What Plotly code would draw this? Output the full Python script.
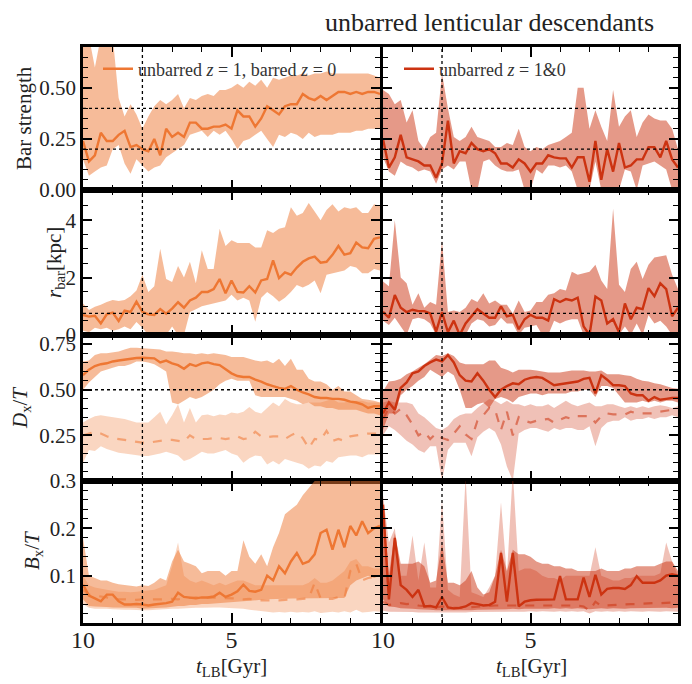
import plotly.graph_objects as go
from plotly.subplots import make_subplots

# ---------------- data (lookback time, Gyr) ----------------
t_lb = [10.0, 9.8, 9.6, 9.4, 9.2, 9.0, 8.8, 8.6, 8.4, 8.2,
        8.0, 7.8, 7.6, 7.4, 7.2, 7.0, 6.8, 6.6, 6.4, 6.2,
        6.0, 5.8, 5.6, 5.4, 5.2, 5.0, 4.8, 4.6, 4.4, 4.2,
        4.0, 3.8, 3.6, 3.4, 3.2, 3.0, 2.8, 2.6, 2.4, 2.2,
        2.0, 1.8, 1.6, 1.4, 1.2, 1.0, 0.8, 0.6, 0.4, 0.2,
        0.0]

# ---- left: unbarred z=1, barred z=0 ----
bs_L = [0.24, 0.14, 0.17, 0.28, 0.24, 0.24, 0.27, 0.29, 0.21, 0.22,
        0.20, 0.19, 0.25, 0.17, 0.30, 0.26, 0.28, 0.26, 0.33, 0.33,
        0.30, 0.30, 0.31, 0.31, 0.32, 0.30, 0.39, 0.36, 0.36, 0.31,
        0.35, 0.41, 0.39, 0.37, 0.41, 0.42, 0.42, 0.47, 0.45, 0.44,
        0.46, 0.44, 0.46, 0.48, 0.48, 0.47, 0.48, 0.47, 0.48, 0.48,
        0.47]
bs_L_hi = [0.72, 0.75, 0.60, 0.75, 0.75, 0.75, 0.45, 0.36, 0.42, 0.37,
           0.30, 0.36, 0.41, 0.44, 0.42, 0.44, 0.47, 0.40, 0.45, 0.44,
           0.46, 0.47, 0.46, 0.49, 0.49, 0.50, 0.52, 0.50, 0.53, 0.51,
           0.54, 0.50, 0.55, 0.54, 0.55, 0.56, 0.56, 0.57, 0.56, 0.57,
           0.57, 0.58, 0.57, 0.57, 0.57, 0.57, 0.57, 0.57, 0.57, 0.56,
           0.55]
bs_L_lo = [0.15, 0.07, 0.09, 0.11, 0.12, 0.20, 0.22, 0.13, 0.08, 0.15,
           0.12, 0.09, 0.11, 0.12, 0.16, 0.18, 0.20, 0.22, 0.27, 0.28,
           0.29, 0.26, 0.29, 0.27, 0.29, 0.25, 0.20, 0.24, 0.25, 0.27,
           0.29, 0.25, 0.21, 0.27, 0.26, 0.28, 0.27, 0.25, 0.28, 0.26,
           0.27, 0.27, 0.27, 0.28, 0.28, 0.28, 0.29, 0.29, 0.30, 0.30,
           0.30]

rb_L = [0.70, 0.64, 0.67, 0.40, 0.72, 0.78, 0.49, 0.85, 0.80, 1.16,
        0.81, 0.72, 0.70, 0.90, 0.74, 0.92, 1.14, 0.95, 1.20, 1.30,
        1.50, 1.50, 1.60, 1.95, 1.45, 1.90, 1.50, 1.48, 1.70, 1.48,
        1.90, 1.95, 2.60, 1.98, 2.18, 2.10, 2.35, 2.55, 2.67, 2.73,
        2.52, 2.55, 2.79, 3.10, 2.80, 2.85, 3.22, 3.05, 3.02, 3.35,
        3.40]
rb_L_hi = [1.10, 0.87, 0.98, 1.05, 1.15, 1.22, 1.18, 1.22, 1.35, 1.55,
           2.10, 1.50, 1.70, 3.00, 1.95, 1.85, 2.40, 2.00, 2.55, 1.80,
           2.95, 2.30, 2.30, 3.70, 3.10, 3.30, 3.20, 3.20, 3.20, 3.05,
           3.05, 3.65, 3.55, 3.70, 3.75, 4.45, 4.15, 4.25, 4.60, 4.30,
           4.00, 4.35, 4.55, 4.30, 4.45, 4.40, 4.45, 4.25, 4.25, 4.55,
           4.50]
rb_L_lo = [0.15, 0.10, 0.25, 0.20, 0.25, 0.15, 0.20, 0.30, 0.20, 0.45,
           0.25, 0.00, 0.00, 0.10, 0.00, 0.30, 0.00, 0.00, 0.80, 0.90,
           1.00, 1.05, 1.10, 1.15, 1.20, 1.40, 1.20, 1.30, 1.20, 0.46,
           1.30, 1.50, 1.35, 1.16, 1.30, 1.50, 1.74, 1.65, 1.75, 1.90,
           1.45, 2.10, 2.15, 2.20, 2.25, 2.40, 2.35, 2.15, 2.15, 2.30,
           2.25]

dt_L = [0.58, 0.61, 0.63, 0.64, 0.645, 0.655, 0.66, 0.665, 0.67, 0.674,
        0.675, 0.674, 0.672, 0.65, 0.66, 0.645, 0.635, 0.615, 0.64, 0.63,
        0.645, 0.65, 0.64, 0.635, 0.61, 0.59, 0.575, 0.57, 0.57, 0.555,
        0.545, 0.53, 0.52, 0.51, 0.505, 0.52, 0.50, 0.485, 0.475, 0.46,
        0.455, 0.455, 0.45, 0.45, 0.445, 0.435, 0.43, 0.42, 0.40, 0.41,
        0.41]
dt_L_hi = [0.655, 0.66, 0.69, 0.70, 0.70, 0.705, 0.71, 0.72, 0.73, 0.73,
           0.728, 0.725, 0.72, 0.72, 0.71, 0.71, 0.705, 0.70, 0.70, 0.695,
           0.70, 0.695, 0.70, 0.695, 0.69, 0.68, 0.68, 0.68, 0.67, 0.66,
           0.655, 0.66, 0.645, 0.67, 0.63, 0.67, 0.61, 0.61, 0.56, 0.545,
           0.545, 0.53, 0.50, 0.52, 0.49, 0.49, 0.47, 0.45, 0.445, 0.44,
           0.43]
dt_L_lo = [0.50, 0.54, 0.57, 0.60, 0.61, 0.62, 0.63, 0.63, 0.64, 0.655,
           0.655, 0.65, 0.64, 0.62, 0.60, 0.43, 0.42, 0.44, 0.46, 0.45,
           0.46, 0.48, 0.50, 0.53, 0.55, 0.56, 0.55, 0.55, 0.55, 0.47,
           0.46, 0.46, 0.46, 0.46, 0.46, 0.45, 0.44, 0.42, 0.43, 0.41,
           0.41, 0.40, 0.40, 0.39, 0.39, 0.39, 0.39, 0.38, 0.37, 0.37,
           0.36]
dx_L = [0.25, 0.26, 0.27, 0.26, 0.245, 0.235, 0.23, 0.225, 0.22, 0.215,
        0.21, 0.21, 0.215, 0.22, 0.225, 0.225, 0.22, 0.215, 0.25, 0.23,
        0.23, 0.23, 0.235, 0.235, 0.23, 0.235, 0.245, 0.23, 0.235, 0.27,
        0.245, 0.24, 0.245, 0.245, 0.23, 0.25, 0.265, 0.235, 0.18, 0.23,
        0.225, 0.275, 0.22, 0.23, 0.22, 0.245, 0.25, 0.255, 0.26, 0.26,
        0.26]
dx_L_hi = [0.32, 0.34, 0.355, 0.36, 0.355, 0.35, 0.345, 0.34, 0.33, 0.32,
           0.32, 0.32, 0.35, 0.38, 0.31, 0.36, 0.42, 0.32, 0.40, 0.32,
           0.36, 0.365, 0.355, 0.365, 0.36, 0.375, 0.37, 0.38, 0.405, 0.38,
           0.37, 0.40, 0.43, 0.41, 0.45, 0.43, 0.42, 0.42, 0.43, 0.43,
           0.43, 0.44, 0.45, 0.43, 0.43, 0.44, 0.44, 0.44, 0.43, 0.43,
           0.43]
dx_L_lo = [0.10, 0.17, 0.165, 0.19, 0.175, 0.165, 0.155, 0.15, 0.145, 0.14,
           0.137, 0.137, 0.145, 0.15, 0.16, 0.15, 0.14, 0.11, 0.12, 0.14,
           0.16, 0.15, 0.15, 0.16, 0.17, 0.15, 0.14, 0.10, 0.125, 0.14,
           0.135, 0.09, 0.11, 0.09, 0.12, 0.11, 0.10, 0.09, 0.067, 0.085,
           0.08, 0.11, 0.10, 0.13, 0.135, 0.14, 0.14, 0.13, 0.145, 0.145,
           0.145]

bt_L = [0.081, 0.058, 0.052, 0.046, 0.060, 0.060, 0.046, 0.039, 0.039, 0.040,
        0.039, 0.037, 0.039, 0.040, 0.042, 0.045, 0.064, 0.055, 0.054, 0.052,
        0.054, 0.054, 0.056, 0.064, 0.055, 0.060, 0.067, 0.081, 0.068, 0.066,
        0.070, 0.100, 0.090, 0.120, 0.105, 0.130, 0.148, 0.125, 0.130, 0.145,
        0.190, 0.197, 0.155, 0.197, 0.160, 0.205, 0.185, 0.215, 0.190, 0.200,
        0.205]
bt_L_hi = [0.18, 0.10, 0.095, 0.090, 0.090, 0.085, 0.082, 0.080, 0.078, 0.077,
           0.080, 0.078, 0.085, 0.095, 0.090, 0.13, 0.155, 0.13, 0.125, 0.12,
           0.105, 0.11, 0.11, 0.11, 0.10, 0.11, 0.11, 0.175, 0.14, 0.125,
           0.145, 0.12, 0.16, 0.19, 0.23, 0.24, 0.25, 0.27, 0.285, 0.30,
           0.32, 0.33, 0.34, 0.34, 0.34, 0.34, 0.34, 0.34, 0.34, 0.34,
           0.34]
bt_L_lo = [0.050, 0.036, 0.035, 0.034, 0.034, 0.033, 0.032, 0.032, 0.032, 0.032,
           0.030, 0.030, 0.031, 0.032, 0.033, 0.034, 0.036, 0.036, 0.038, 0.038,
           0.040, 0.040, 0.041, 0.042, 0.042, 0.043, 0.044, 0.046, 0.047, 0.048,
           0.049, 0.050, 0.050, 0.051, 0.051, 0.052, 0.052, 0.052, 0.052, 0.052,
           0.052, 0.052, 0.053, 0.053, 0.053, 0.080, 0.090, 0.095, 0.100, 0.095,
           0.100]
bx_L = [0.070, 0.060, 0.058, 0.056, 0.054, 0.052, 0.050, 0.050, 0.049, 0.049,
        0.050, 0.050, 0.049, 0.049, 0.050, 0.051, 0.050, 0.052, 0.053, 0.054,
        0.053, 0.054, 0.054, 0.053, 0.053, 0.052, 0.052, 0.050, 0.051, 0.048,
        0.048, 0.047, 0.047, 0.048, 0.049, 0.049, 0.050, 0.051, 0.052, 0.085,
        0.052, 0.051, 0.051, 0.055, 0.052, 0.110, 0.125, 0.090, 0.095, 0.097,
        0.100]
bx_L_hi = [0.10, 0.08, 0.075, 0.072, 0.070, 0.068, 0.066, 0.066, 0.065, 0.066,
           0.067, 0.068, 0.070, 0.075, 0.080, 0.12, 0.17, 0.10, 0.09, 0.085,
           0.09, 0.085, 0.08, 0.085, 0.08, 0.085, 0.09, 0.09, 0.085, 0.08,
           0.08, 0.08, 0.08, 0.08, 0.08, 0.08, 0.08, 0.08, 0.085, 0.095,
           0.085, 0.085, 0.09, 0.10, 0.11, 0.13, 0.135, 0.12, 0.12, 0.115,
           0.115]
bx_L_lo = [0.040, 0.032, 0.030, 0.030, 0.030, 0.029, 0.028, 0.028, 0.028, 0.028,
           0.027, 0.027, 0.028, 0.028, 0.029, 0.030, 0.030, 0.031, 0.031, 0.032,
           0.032, 0.032, 0.033, 0.033, 0.032, 0.032, 0.031, 0.030, 0.028, 0.026,
           0.025, 0.024, 0.022, 0.023, 0.022, 0.024, 0.022, 0.023, 0.022, 0.025,
           0.021, 0.022, 0.024, 0.022, 0.025, 0.022, 0.028, 0.022, 0.023, 0.025,
           0.024]

# ---- right: unbarred z=1 & 0 ----
bs_R = [0.25, 0.11, 0.16, 0.27, 0.16, 0.15, 0.14, 0.12, 0.12, 0.06,
        0.13, 0.34, 0.13, 0.19, 0.18, 0.23, 0.20, 0.19, 0.20, 0.18,
        0.13, 0.13, 0.11, 0.15, 0.13, 0.09, 0.13, 0.13, 0.17, 0.16,
        0.155, 0.155, 0.11, 0.16, 0.16, 0.04, 0.24, 0.05, 0.20, 0.09,
        0.23, 0.11, 0.12, 0.15, 0.15, 0.21, 0.21, 0.16, 0.24, 0.15,
        0.11]
bs_R_hi = [0.49, 0.47, 0.42, 0.44, 0.33, 0.39, 0.24, 0.20, 0.26, 0.28,
           0.57, 0.40, 0.26, 0.24, 0.26, 0.31, 0.26, 0.25, 0.24, 0.21,
           0.21, 0.23, 0.22, 0.30, 0.21, 0.19, 0.21, 0.20, 0.22, 0.23,
           0.24, 0.26, 0.28, 0.50, 0.50, 0.30, 0.39, 0.31, 0.24, 0.49,
           0.31, 0.36, 0.39, 0.26, 0.33, 0.37, 0.35, 0.34, 0.34, 0.30,
           0.20]
bs_R_lo = [0.16, 0.09, 0.07, 0.14, 0.12, 0.11, 0.09, 0.10, 0.09, 0.03,
           0.10, 0.12, 0.10, 0.14, 0.14, 0.00, 0.00, 0.14, 0.15, 0.12,
           0.10, 0.09, 0.09, 0.10, 0.00, 0.00, 0.10, 0.08, 0.12, 0.12,
           0.11, 0.12, 0.09, 0.00, 0.00, 0.00, 0.14, 0.00, 0.00, 0.00,
           0.00, 0.10, 0.09, 0.00, 0.12, 0.13, 0.14, 0.12, 0.10, 0.00,
           0.00]

rb_R = [0.81, 0.60, 1.39, 0.95, 0.80, 0.88, 0.83, 0.83, 0.75, 0.12,
        0.80, 0.10, 0.50, 0.00, 0.40, 0.65, 0.90, 0.75, 0.60, 0.60,
        1.00, 0.65, 0.70, 0.20, 0.55, 0.70, 0.60, 0.60, 0.50, 1.25,
        1.15, 1.25, 1.20, 1.30, 0.30, 0.00, 1.34, 1.20, 0.40, 0.55,
        0.10, 1.10, 0.55, 0.95, 0.90, 1.63, 1.35, 1.80, 1.60, 0.65,
        0.95]
rb_R_hi = [1.86, 1.70, 4.00, 2.00, 1.80, 1.05, 1.45, 0.95, 1.15, 1.05,
           3.30, 0.80, 0.85, 0.80, 0.95, 1.25, 1.15, 1.45, 1.10, 1.20,
           1.05, 1.05, 0.75, 1.20, 0.80, 0.85, 1.15, 1.15, 1.40, 1.45,
           1.60, 1.55, 2.20, 2.10, 2.15, 2.20, 2.45, 1.90, 1.60, 4.40,
           1.75, 1.50, 2.30, 2.55, 1.95, 2.45, 2.70, 2.75, 2.78, 2.10,
           1.60]
rb_R_lo = [0.50, 0.35, 0.60, 0.30, 0.00, 0.55, 0.60, 0.55, 0.40, 0.00,
           0.00, 0.00, 0.00, 0.00, 0.00, 0.40, 0.55, 0.50, 0.30, 0.35,
           0.60, 0.40, 0.40, 0.00, 0.25, 0.30, 0.35, 0.00, 0.00, 0.50,
           0.40, 0.50, 0.55, 0.55, 0.00, 0.00, 0.00, 0.00, 0.00, 0.00,
           0.00, 0.30, 0.00, 0.40, 0.00, 0.70, 0.40, 0.50, 0.30, 0.00,
           0.00]

dt_R = [0.37, 0.43, 0.39, 0.51, 0.54, 0.59, 0.60, 0.63, 0.65, 0.665,
        0.655, 0.69, 0.65, 0.58, 0.55, 0.545, 0.59, 0.55, 0.50, 0.46,
        0.50, 0.52, 0.535, 0.53, 0.555, 0.565, 0.57, 0.565, 0.545, 0.525,
        0.53, 0.535, 0.54, 0.545, 0.56, 0.565, 0.48, 0.58, 0.555, 0.525,
        0.525, 0.52, 0.48, 0.47, 0.47, 0.44, 0.46, 0.445, 0.45, 0.455,
        0.455]
dt_R_hi = [0.49, 0.545, 0.55, 0.56, 0.585, 0.60, 0.62, 0.64, 0.665, 0.69,
           0.685, 0.70, 0.685, 0.65, 0.64, 0.64, 0.64, 0.64, 0.66, 0.66,
           0.62, 0.61, 0.595, 0.61, 0.61, 0.61, 0.605, 0.60, 0.595, 0.595,
           0.595, 0.60, 0.605, 0.605, 0.605, 0.60, 0.60, 0.605, 0.585, 0.585,
           0.585, 0.58, 0.575, 0.56, 0.55, 0.545, 0.535, 0.53, 0.52, 0.51,
           0.505]
dt_R_lo = [0.28, 0.37, 0.37, 0.47, 0.50, 0.52, 0.55, 0.57, 0.61, 0.59,
           0.57, 0.60, 0.58, 0.50, 0.40, 0.40, 0.42, 0.43, 0.40, 0.45,
           0.46, 0.45, 0.43, 0.46, 0.47, 0.48, 0.48, 0.47, 0.48, 0.48,
           0.48, 0.48, 0.49, 0.49, 0.50, 0.50, 0.46, 0.52, 0.52, 0.51,
           0.47, 0.43, 0.43, 0.43, 0.44, 0.43, 0.44, 0.43, 0.44, 0.44,
           0.43]
dx_R = [0.34, 0.40, 0.37, 0.395, 0.36, 0.31, 0.25, 0.27, 0.23, 0.26,
        0.235, 0.225, 0.26, 0.30, 0.255, 0.23, 0.33, 0.36, 0.40, 0.39,
        0.28, 0.38, 0.25, 0.35, 0.33, 0.32, 0.33, 0.335, 0.34, 0.32,
        0.335, 0.35, 0.34, 0.355, 0.355, 0.355, 0.32, 0.355, 0.37, 0.365,
        0.365, 0.365, 0.38, 0.37, 0.37, 0.37, 0.37, 0.38, 0.385, 0.39,
        0.39]
dx_R_hi = [0.43, 0.44, 0.43, 0.43, 0.43, 0.42, 0.37, 0.35, 0.32, 0.29,
           0.28, 0.30, 0.34, 0.36, 0.37, 0.37, 0.40, 0.425, 0.45, 0.44,
           0.42, 0.44, 0.42, 0.42, 0.41, 0.42, 0.41, 0.41, 0.42, 0.40,
           0.42, 0.44, 0.42, 0.41, 0.42, 0.43, 0.41, 0.41, 0.42, 0.42,
           0.41, 0.40, 0.41, 0.40, 0.41, 0.40, 0.41, 0.415, 0.41, 0.40,
           0.41]
dx_R_lo = [0.25, 0.30, 0.28, 0.25, 0.22, 0.20, 0.17, 0.155, 0.19, 0.19,
           0.00, 0.17, 0.21, 0.21, 0.21, 0.135, 0.24, 0.27, 0.29, 0.27,
           0.20, 0.08, 0.00, 0.26, 0.28, 0.29, 0.29, 0.28, 0.27, 0.29,
           0.28, 0.29, 0.29, 0.28, 0.28, 0.30, 0.19, 0.29, 0.32, 0.33,
           0.33, 0.35, 0.33, 0.34, 0.34, 0.35, 0.34, 0.35, 0.35, 0.36,
           0.35]

bt_R = [0.25, 0.05, 0.18, 0.08, 0.07, 0.055, 0.07, 0.035, 0.036, 0.033,
        0.055, 0.033, 0.031, 0.032, 0.035, 0.042, 0.040, 0.037, 0.038, 0.045,
        0.148, 0.045, 0.148, 0.035, 0.045, 0.048, 0.049, 0.049, 0.050, 0.050,
        0.099, 0.050, 0.050, 0.050, 0.096, 0.055, 0.102, 0.060, 0.072, 0.074,
        0.074, 0.072, 0.080, 0.099, 0.085, 0.085, 0.085, 0.090, 0.100, 0.103,
        0.100]
bt_R_hi = [0.26, 0.10, 0.19, 0.125, 0.125, 0.125, 0.13, 0.12, 0.085, 0.09,
           0.17, 0.085, 0.085, 0.08, 0.09, 0.11, 0.075, 0.06, 0.065, 0.10,
           0.155, 0.11, 0.155, 0.145, 0.145, 0.14, 0.13, 0.125, 0.125, 0.12,
           0.12, 0.115, 0.115, 0.11, 0.11, 0.11, 0.11, 0.115, 0.11, 0.11,
           0.11, 0.115, 0.115, 0.12, 0.12, 0.12, 0.12, 0.125, 0.13, 0.13,
           0.11]
bt_R_lo = [0.050, 0.035, 0.034, 0.031, 0.030, 0.030, 0.029, 0.028, 0.028, 0.027,
           0.027, 0.026, 0.026, 0.026, 0.027, 0.027, 0.028, 0.028, 0.028, 0.029,
           0.029, 0.029, 0.030, 0.029, 0.030, 0.030, 0.031, 0.030, 0.030, 0.031,
           0.030, 0.031, 0.030, 0.031, 0.030, 0.029, 0.030, 0.031, 0.030, 0.031,
           0.031, 0.030, 0.031, 0.032, 0.031, 0.032, 0.031, 0.032, 0.032, 0.031,
           0.032]
bx_R = [0.045, 0.038, 0.040, 0.042, 0.040, 0.041, 0.037, 0.036, 0.034, 0.033,
        0.035, 0.033, 0.032, 0.032, 0.033, 0.034, 0.035, 0.035, 0.036, 0.037,
        0.037, 0.037, 0.037, 0.036, 0.037, 0.037, 0.037, 0.037, 0.037, 0.037,
        0.036, 0.036, 0.037, 0.037, 0.035, 0.026, 0.045, 0.036, 0.037, 0.038,
        0.039, 0.040, 0.040, 0.040, 0.041, 0.041, 0.042, 0.042, 0.042, 0.043,
        0.044]
bx_R_hi = [0.27, 0.17, 0.20, 0.10, 0.10, 0.185, 0.09, 0.17, 0.075, 0.075,
           0.26, 0.07, 0.06, 0.055, 0.31, 0.065, 0.06, 0.055, 0.075, 0.10,
           0.255, 0.10, 0.32, 0.11, 0.115, 0.115, 0.11, 0.10, 0.095, 0.095,
           0.09, 0.10, 0.10, 0.10, 0.10, 0.10, 0.16, 0.10, 0.095, 0.09,
           0.09, 0.095, 0.095, 0.10, 0.10, 0.10, 0.10, 0.105, 0.17, 0.13,
           0.10]
bx_R_lo = [0.026, 0.024, 0.024, 0.023, 0.023, 0.023, 0.022, 0.022, 0.022, 0.022,
           0.021, 0.021, 0.022, 0.022, 0.022, 0.023, 0.023, 0.023, 0.024, 0.024,
           0.024, 0.024, 0.023, 0.024, 0.024, 0.025, 0.024, 0.025, 0.025, 0.024,
           0.025, 0.024, 0.025, 0.024, 0.025, 0.020, 0.025, 0.024, 0.025, 0.024,
           0.025, 0.024, 0.025, 0.025, 0.024, 0.025, 0.025, 0.024, 0.025, 0.025,
           0.024]

for name, arr in list(globals().items()):
    if isinstance(arr, list) and name != "t_lb":
        assert len(arr) == len(t_lb), (name, len(arr))

# ---------------- styling ----------------
W, H = 692, 684
OFF = 8  # default page body margin in the browser
FONT = '"Liberation Serif", "Times New Roman", serif'
ORANGE = (238, 119, 51)
RED = (204, 51, 17)


def px(x):
    return (x - OFF) / W


def py(y):
    return 1 - (y - OFF) / H


def rgba(c, a):
    return "rgba(%d,%d,%d,%s)" % (c[0], c[1], c[2], a)


fig = make_subplots(rows=4, cols=2)

col_dom = {1: [px(83), px(380)], 2: [px(383), px(678)]}
row_dom = {1: [py(190), py(47)], 2: [py(335), py(190)],
           3: [py(481), py(335)], 4: [py(623), py(481)]}

yspec = {
    1: dict(range=[0, 0.7], tickvals=[0, 0.25, 0.5], ticktext=["0.00", "0.25", "0.50"], mdt=0.05),
    2: dict(range=[0, 5.05], tickvals=[0, 2, 4], ticktext=["0", "2", "4"], mdt=0.5),
    3: dict(range=[0, 0.8], tickvals=[0.25, 0.5, 0.75], ticktext=["0.25", "0.50", "0.75"], mdt=0.05),
    4: dict(range=[0, 0.3], tickvals=[0.1, 0.2, 0.3], ticktext=["0.1", "0.2", "0.3"], mdt=0.02),
}


def band(lo, hi, color, row, col):
    xs = t_lb + t_lb[::-1]
    ys = hi + lo[::-1]
    fig.add_trace(go.Scatter(x=xs, y=ys, fill="toself", fillcolor=color,
                             line=dict(width=0), mode="lines", hoverinfo="skip",
                             showlegend=False), row=row, col=col)


def line(y, color, row, col, dash="solid", width=2.4, name=None, legend=None):
    fig.add_trace(go.Scatter(x=t_lb, y=y, mode="lines",
                             line=dict(color=color, width=width, dash=dash),
                             name=name or "series", showlegend=name is not None,
                             legend=legend or "legend"), row=row, col=col)


sides = [
    (1, ORANGE, "unbarred <i>z</i> = 1, barred <i>z</i> = 0", "legend",
     (bs_L, bs_L_lo, bs_L_hi), (rb_L, rb_L_lo, rb_L_hi),
     (dt_L, dt_L_lo, dt_L_hi), (dx_L, dx_L_lo, dx_L_hi),
     (bt_L, bt_L_lo, bt_L_hi), (bx_L, bx_L_lo, bx_L_hi)),
    (2, RED, "unbarred <i>z</i> = 1&amp;0", "legend2",
     (bs_R, bs_R_lo, bs_R_hi), (rb_R, rb_R_lo, rb_R_hi),
     (dt_R, dt_R_lo, dt_R_hi), (dx_R, dx_R_lo, dx_R_hi),
     (bt_R, bt_R_lo, bt_R_hi), (bx_R, bx_R_lo, bx_R_hi)),
]

for col, c, lname, lg, bs, rb, dt, dx, bt, bx in sides:
    main = rgba(c, 1)
    band(bs[1], bs[2], rgba(c, 0.5), 1, col)
    line(bs[0], main, 1, col, name=lname, legend=lg)
    band(rb[1], rb[2], rgba(c, 0.5), 2, col)
    line(rb[0], main, 2, col)
    band(dx[1], dx[2], rgba(c, 0.3), 3, col)
    band(dt[1], dt[2], rgba(c, 0.5), 3, col)
    line(dx[0], rgba(c, 0.55), 3, col, dash="dash", width=2.2)
    line(dt[0], main, 3, col)
    band(bx[1], bx[2], rgba(c, 0.3), 4, col)
    band(bt[1], bt[2], rgba(c, 0.5), 4, col)
    line(bx[0], rgba(c, 0.55), 4, col, dash="dash", width=2.2)
    line(bt[0], main, 4, col)

for r in range(1, 5):
    for col in (1, 2):
        fig.update_xaxes(domain=col_dom[col], range=[10, 0], automargin=False,
                         tickvals=[10, 5], ticktext=["10", "5"],
                         ticks="inside", ticklen=10, tickwidth=1.8, tickcolor="black",
                         showline=True, linewidth=2.5, linecolor="black",
                         mirror="allticks", showgrid=False, zeroline=False,
                         minor=dict(tickvals=[9, 8, 7, 6, 4, 3, 2, 1], ticks="inside",
                                    ticklen=5, tickwidth=1.3, tickcolor="black",
                                    showgrid=False),
                         showticklabels=(r == 4), ticklabelstandoff=-7,
                         tickfont=dict(family=FONT, size=24, color="#222"),
                         row=r, col=col)
        s = yspec[r]
        fig.update_yaxes(domain=row_dom[r], range=s["range"], automargin=False,
                         tickvals=s["tickvals"], ticktext=s["ticktext"],
                         ticks="inside", ticklen=9, tickwidth=1.8, tickcolor="black",
                         showline=True, linewidth=2.5, linecolor="black",
                         mirror="allticks", showgrid=False, zeroline=False,
                         minor=dict(dtick=s["mdt"], tick0=0, ticks="inside",
                                    ticklen=5, tickwidth=1.3, tickcolor="black",
                                    showgrid=False),
                         showticklabels=(col == 1),
                         tickfont=dict(family=FONT, size=21, color="#222"),
                         row=r, col=col)

dot = dict(color="black", width=1.3, dash="dot")
for col in (1, 2):
    for yv in (0.2, 0.4):
        fig.add_hline(y=yv, line=dot, row=1, col=col)
    fig.add_hline(y=0.75, line=dot, row=2, col=col)
    fig.add_hline(y=0.5, line=dot, row=3, col=col)
    for r in range(1, 5):
        fig.add_vline(x=8, line=dot, row=r, col=col)

ann = []
ytitles = [("Bar strength", 23.5, 118.5), ("<i>r</i><sub>bar</sub>[kpc]", 55, 262),
           ("<i>D</i><sub>x</sub>/<i>T</i>", 21, 408), ("<i>B</i><sub>x</sub>/<i>T</i>", 33, 551)]
for txt, xp, yp in ytitles:
    ann.append(dict(text=txt, x=px(xp), y=py(yp), xref="paper", yref="paper",
                    textangle=-90, showarrow=False, xanchor="center", yanchor="middle",
                    font=dict(family=FONT, size=21, color="#222")))
for xp in (231, 531):
    ann.append(dict(text="<i>t</i><sub>LB</sub>[Gyr]", x=px(xp), y=py(667),
                    xref="paper", yref="paper", showarrow=False,
                    xanchor="center", yanchor="middle",
                    font=dict(family=FONT, size=21, color="#222")))
ann.append(dict(text="unbarred lenticular descendants", x=px(489), y=py(22),
                xref="paper", yref="paper", showarrow=False,
                xanchor="center", yanchor="middle",
                font=dict(family=FONT, size=26, color="#222")))

legend_common = dict(bgcolor="rgba(0,0,0,0)", borderwidth=0, xanchor="left",
                     yanchor="middle", font=dict(family=FONT, size=18, color="#333"),
                     itemwidth=30, tracegroupgap=0)
fig.update_layout(
    width=W, height=H, margin=dict(l=0, r=0, t=0, b=0, autoexpand=False),
    paper_bgcolor="white", plot_bgcolor="white",
    annotations=ann,
    legend=dict(x=px(98), y=py(69), **legend_common),
    legend2=dict(x=px(399), y=py(69), **legend_common),
)

fig.write_html("out.html")
